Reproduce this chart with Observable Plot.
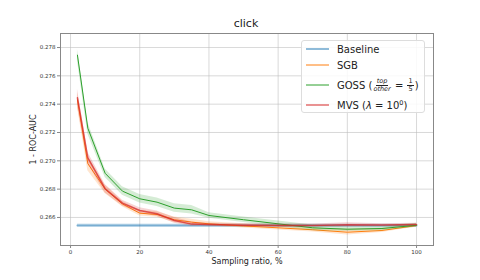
<!DOCTYPE html>
<html>
<head>
<meta charset="utf-8">
<script src="https://cdn.jsdelivr.net/npm/d3@7"></script>
<script src="https://cdn.jsdelivr.net/npm/@observablehq/plot@0.6"></script>
<style>
  html, body { margin: 0; padding: 0; background: white; }
  #wrap { position: relative; width: 480px; height: 280px; font-family: "DejaVu Sans", sans-serif; overflow: hidden; }
  #wrap > svg { position: absolute; left: 0; top: 0; }
  #title { position: absolute; left: 0; width: 492px; top: 17px; text-align: center; font-size: 11px; color: #222; }
  #legend { position: absolute; left: 301px; top: 40px; width: 124px; height: 73px; border: 1px solid #ddd; border-radius: 3px; background: rgba(255,255,255,0.85); box-sizing: border-box; }
  .row { position: absolute; left: 4px; height: 14px; display: flex; align-items: center; font-size: 10px; color: #222; white-space: nowrap; }
  .row svg { display: block; margin-right: 8px; flex: none; }
  .frac { display: inline-flex; flex-direction: column; align-items: center; vertical-align: middle; font-size: 6.5px; line-height: 7px; margin: 0 1px; }
  .frac span:first-child { border-bottom: 0.7px solid #222; padding: 0 1px; }
</style>
</head>
<body>
<div id="wrap">
  <div id="title">click</div>
</div>
<script>
// ---- data ----
const ratios = [2, 5, 10, 15, 20, 25, 30, 35, 40, 50, 60, 70, 80, 90, 100];
const baselineValue = 0.26543;
const baselineStd = 0.0001;
const sgb    = [0.2743, 0.2698, 0.2680, 0.26695, 0.2663, 0.26621, 0.26584, 0.26567, 0.26555, 0.2654, 0.26527, 0.26513, 0.26496, 0.26508, 0.26543];
const sgbStd = [0.0005, 0.0005, 0.0003, 0.0002, 0.0002, 0.0002, 0.0002, 0.0002, 0.00015, 0.00015, 0.00015, 0.00015, 0.0002, 0.00015, 0.0001];
const goss    = [0.27746, 0.2723, 0.26912, 0.26786, 0.26732, 0.26708, 0.26666, 0.26654, 0.26614, 0.26584, 0.26555, 0.26527, 0.26517, 0.26522, 0.26545];
const gossStd = [0.0004, 0.0004, 0.0003, 0.0003, 0.0003, 0.0003, 0.0003, 0.0003, 0.0002, 0.0002, 0.0002, 0.0002, 0.00015, 0.00015, 0.00015];
const mvs    = [0.27445, 0.2702, 0.26803, 0.26701, 0.26649, 0.26626, 0.26579, 0.26553, 0.2655, 0.26545, 0.26543, 0.26543, 0.26548, 0.26546, 0.2655];
const mvsStd = [0.0006, 0.0004, 0.0003, 0.0002, 0.0002, 0.0002, 0.0002, 0.00015, 0.0001, 0.0001, 0.0001, 0.0001, 0.00015, 0.0001, 0.0001];
const xTicks = [0, 20, 40, 60, 80, 100];
const yTicks = [0.266, 0.268, 0.270, 0.272, 0.274, 0.276, 0.278];
const seriesNames = ["Baseline", "SGB", "GOSS", "MVS"];
const colors = ["#1f77b4", "#ff7f0e", "#2ca02c", "#d62728"];

const mk = (vals, stds) => ratios.map((x, i) => ({x, y: vals[i], s: stds[i]}));
const dBase = ratios.map(x => ({x, y: baselineValue, s: baselineStd}));
const dSgb = mk(sgb, sgbStd);
const dGoss = mk(goss, gossStd);
const dMvs = mk(mvs, mvsStd);

const band = (d, c) => Plot.areaY(d, {x: "x", y1: r => r.y - r.s, y2: r => r.y + r.s, fill: c, fillOpacity: 0.2});
const line = (d, c, w, o) => Plot.lineY(d, {x: "x", y: "y", stroke: c, strokeWidth: w, strokeOpacity: o});

const chart = Plot.plot({
  width: 480, height: 280,
  marginLeft: 60, marginRight: 47, marginTop: 33, marginBottom: 35,
  style: {fontFamily: "DejaVu Sans", fontSize: "5.5px", background: "transparent", color: "#333"},
  x: {domain: [-2.9, 104.9]},
  y: {domain: [0.26402, 0.27899]},
  marks: [
    Plot.gridX(xTicks, {stroke: "#bbb", strokeOpacity: 0.7, strokeWidth: 0.8}),
    Plot.gridY(yTicks, {stroke: "#bbb", strokeOpacity: 0.7, strokeWidth: 0.8}),
    band(dBase, colors[0]),
    line(dBase, colors[0], 2, 0.5),
    band(dSgb, colors[1]),
    line(dSgb, colors[1], 1, 1),
    band(dGoss, colors[2]),
    line(dGoss, colors[2], 1, 1),
    band(dMvs, colors[3]),
    line(dMvs, colors[3], 1.5, 0.75),
    Plot.frame({stroke: "#888", strokeWidth: 1}),
    Plot.axisX(xTicks, {tickSize: 3, tickPadding: 1.5, label: null, stroke: "#888", fill: "#333"}),
    Plot.axisY(yTicks, {tickSize: 3, tickPadding: 2, label: null, tickFormat: d3.format(".3f"), stroke: "#888", fill: "#333"}),
    Plot.text(["Sampling ratio, %"], {frameAnchor: "bottom", dy: 16, fontSize: 8, fill: "#222", lineAnchor: "middle"}),
    Plot.text(["1 - ROC-AUC"], {frameAnchor: "left", dx: -27, rotate: -90, fontSize: 8, fill: "#222", textAnchor: "middle", lineAnchor: "middle"})
  ]
});
const wrap = document.getElementById("wrap");
wrap.insertBefore(chart, wrap.firstChild);

// legend
const legend = document.createElement("div");
legend.id = "legend";
const labels = [
  "Baseline",
  "SGB",
  'GOSS (<span class="frac"><span><i>top</i></span><span><i>other</i></span></span> = <span class="frac"><span>1</span><span>5</span></span>)',
  "MVS (<i>λ</i> = 10<sup style=\"font-size:6.5px\">0</sup>)"
];
const widths = [2, 1, 1, 2];
const ops = [0.5, 1, 1, 0.5];
const tops = [1, 17, 37, 57];
labels.forEach((lab, i) => {
  const r = document.createElement("div");
  r.className = "row";
  r.style.top = tops[i] + "px";
  r.innerHTML = `<svg width="23" height="6"><line x1="0" x2="23" y1="3" y2="3" stroke="${colors[i]}" stroke-width="${widths[i]}" stroke-opacity="${ops[i]}"/></svg><span>${lab}</span>`;
  legend.appendChild(r);
});
wrap.appendChild(legend);
</script>
</body>
</html>
